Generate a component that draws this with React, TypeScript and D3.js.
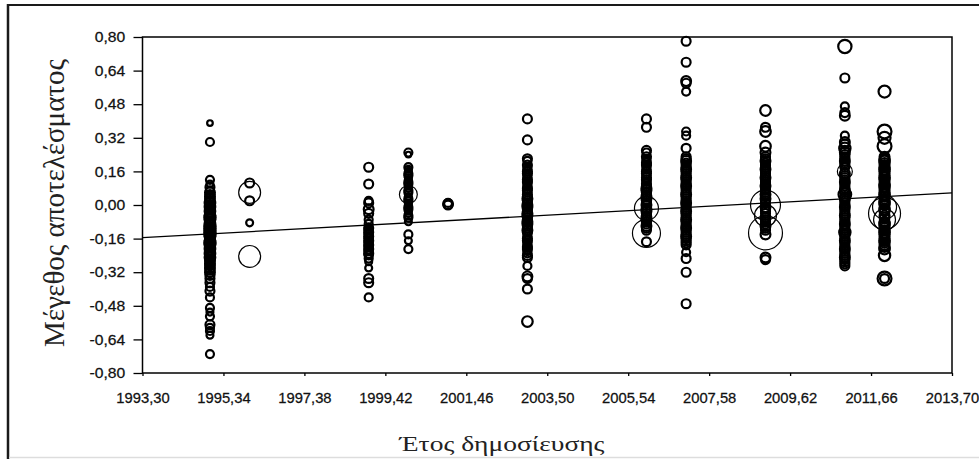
import React, { useRef, useEffect } from 'react';
import * as d3 from 'd3';

// [effect size, study weight] per publication year
const studies1995 = [
  [0.39, 2], [0.30, 4], [0.12, 4], [0.10, 3], [0.085, 5], [0.07, 4], [0.06, 6], [0.05, 5],
  [0.04, 6], [0.035, 5], [0.03, 5], [0.02, 6], [0.015, 5], [0.01, 7], [0.0, 6], [-0.005, 5],
  [-0.01, 7], [-0.02, 6], [-0.025, 5], [-0.03, 7], [-0.04, 6], [-0.045, 5], [-0.05, 7],
  [-0.06, 8], [-0.065, 6], [-0.07, 7], [-0.08, 6], [-0.085, 5], [-0.09, 7], [-0.10, 8],
  [-0.105, 6], [-0.11, 7], [-0.12, 8], [-0.125, 6], [-0.13, 7], [-0.14, 8], [-0.145, 6],
  [-0.15, 7], [-0.16, 6], [-0.165, 5], [-0.17, 7], [-0.18, 8], [-0.185, 6], [-0.19, 7],
  [-0.20, 6], [-0.205, 5], [-0.21, 7], [-0.22, 6], [-0.225, 5], [-0.23, 7], [-0.24, 6],
  [-0.245, 5], [-0.25, 7], [-0.26, 6], [-0.265, 5], [-0.27, 5], [-0.28, 6], [-0.285, 5],
  [-0.29, 5], [-0.30, 6], [-0.31, 5], [-0.32, 6], [-0.335, 5], [-0.35, 5], [-0.37, 5],
  [-0.39, 4], [-0.41, 5], [-0.44, 4], [-0.49, 4], [-0.51, 3], [-0.53, 4], [-0.57, 5],
  [-0.585, 4], [-0.60, 4], [-0.62, 3], [-0.71, 4],
];
const studies1996 = [[0.105, 5], [0.06, 30], [0.02, 5], [-0.085, 3], [-0.245, 30]];
const studies1999 = [
  [0.18, 5], [0.10, 5], [0.02, 4], [0.01, 5], [-0.02, 6], [-0.04, 5], [-0.07, 4], [-0.09, 4],
  [-0.11, 5], [-0.115, 4], [-0.12, 4], [-0.13, 5], [-0.135, 4], [-0.14, 4], [-0.15, 5],
  [-0.155, 4], [-0.16, 4], [-0.17, 5], [-0.175, 4], [-0.18, 4], [-0.19, 5], [-0.195, 4],
  [-0.20, 4], [-0.21, 5], [-0.215, 4], [-0.22, 4], [-0.23, 5], [-0.235, 4], [-0.24, 4],
  [-0.255, 4], [-0.27, 3], [-0.30, 3], [-0.35, 5], [-0.37, 5], [-0.44, 4],
];
const studies2000 = [
  [0.25, 4], [0.24, 2], [0.18, 4], [0.17, 3], [0.16, 3], [0.15, 4], [0.14, 4], [0.13, 3],
  [0.12, 3], [0.11, 4], [0.10, 4], [0.09, 3], [0.08, 3], [0.07, 4], [0.06, 4], [0.05, 20],
  [0.04, 3], [0.03, 4], [0.02, 4], [0.01, 3], [0.0, 3], [-0.01, 4], [-0.02, 4], [-0.03, 3],
  [-0.04, 3], [-0.05, 4], [-0.06, 4], [-0.08, 3], [-0.14, 4], [-0.17, 3], [-0.21, 4],
];
const studies2001 = [[0.01, 4], [0.005, 6], [0.0, 5]];
const studies2003 = [
  [0.41, 5], [0.31, 5], [0.22, 5], [0.21, 4], [0.19, 5], [0.18, 4], [0.17, 4], [0.16, 5],
  [0.15, 5], [0.14, 4], [0.13, 4], [0.12, 5], [0.11, 5], [0.10, 4], [0.09, 4], [0.08, 5],
  [0.07, 5], [0.06, 4], [0.05, 5], [0.04, 5], [0.03, 6], [0.02, 5], [0.01, 5], [0.0, 6],
  [-0.01, 6], [-0.02, 5], [-0.03, 5], [-0.04, 6], [-0.05, 6], [-0.06, 5], [-0.07, 5],
  [-0.08, 6], [-0.09, 6], [-0.10, 5], [-0.11, 5], [-0.12, 6], [-0.13, 5], [-0.14, 4],
  [-0.15, 4], [-0.16, 5], [-0.17, 5], [-0.18, 4], [-0.19, 4], [-0.20, 5], [-0.21, 5],
  [-0.22, 4], [-0.23, 4], [-0.24, 5], [-0.25, 5], [-0.29, 4], [-0.34, 6], [-0.35, 5],
  [-0.40, 5], [-0.555, 7],
];
const studies2006 = [
  [0.41, 5], [0.37, 5], [0.26, 5], [0.25, 4], [0.23, 5], [0.22, 4], [0.21, 4], [0.20, 5],
  [0.19, 5], [0.18, 4], [0.17, 4], [0.16, 5], [0.15, 5], [0.14, 4], [0.13, 5], [0.12, 5],
  [0.11, 4], [0.10, 5], [0.09, 5], [0.08, 6], [0.07, 6], [0.06, 5], [0.05, 5], [0.04, 6],
  [0.03, 6], [0.02, 5], [0.01, 5], [0.0, 6], [-0.016, 36], [-0.02, 6], [-0.03, 6],
  [-0.04, 5], [-0.05, 5], [-0.06, 6], [-0.07, 6], [-0.08, 5], [-0.09, 5], [-0.10, 6],
  [-0.11, 5], [-0.12, 5], [-0.135, 49], [-0.175, 5],
];
const studies2007 = [
  [0.78, 5], [0.68, 5], [0.59, 6], [0.58, 5], [0.54, 4], [0.35, 4], [0.33, 4], [0.27, 5],
  [0.23, 5], [0.22, 5], [0.21, 6], [0.20, 5], [0.19, 5], [0.18, 5], [0.17, 6], [0.16, 5],
  [0.15, 5], [0.14, 5], [0.13, 6], [0.12, 5], [0.11, 5], [0.10, 5], [0.09, 6], [0.08, 5],
  [0.07, 5], [0.06, 5], [0.05, 6], [0.04, 5], [0.03, 5], [0.02, 5], [0.01, 6], [0.0, 5],
  [-0.01, 5], [-0.02, 5], [-0.03, 6], [-0.04, 5], [-0.05, 5], [-0.06, 5], [-0.07, 6],
  [-0.08, 5], [-0.09, 5], [-0.10, 5], [-0.11, 6], [-0.12, 5], [-0.13, 5], [-0.14, 5],
  [-0.15, 6], [-0.16, 5], [-0.17, 5], [-0.18, 5], [-0.19, 5], [-0.225, 4], [-0.255, 5],
  [-0.32, 5], [-0.47, 5],
];
const studies2009 = [
  [0.45, 7], [0.37, 5], [0.35, 7], [0.28, 7], [0.25, 6], [0.23, 5], [0.22, 5], [0.21, 6],
  [0.20, 5], [0.19, 5], [0.18, 5], [0.17, 6], [0.16, 5], [0.15, 5], [0.14, 5], [0.13, 6],
  [0.12, 5], [0.11, 5], [0.10, 5], [0.09, 6], [0.08, 5], [0.07, 5], [0.06, 5], [0.05, 6],
  [0.04, 5], [0.03, 6], [0.02, 5], [0.0, 56], [0.01, 5], [-0.01, 6], [-0.02, 5], [-0.03, 5],
  [-0.04, 5], [-0.05, 30], [-0.06, 6], [-0.07, 5], [-0.08, 5], [-0.09, 5], [-0.10, 6],
  [-0.11, 5], [-0.12, 5], [-0.133, 72], [-0.14, 6], [-0.25, 6], [-0.26, 5],
];
const studies2011 = [
  [0.755, 11], [0.605, 5], [0.47, 4], [0.44, 5], [0.425, 6], [0.33, 4], [0.30, 6], [0.29, 5],
  [0.27, 8], [0.26, 5], [0.25, 6], [0.24, 5], [0.23, 5], [0.22, 5], [0.21, 6], [0.20, 5],
  [0.19, 5], [0.18, 5], [0.16, 14], [0.15, 6], [0.14, 5], [0.13, 5], [0.12, 5], [0.11, 6],
  [0.10, 5], [0.09, 5], [0.08, 5], [0.07, 6], [0.06, 5], [0.05, 10], [0.04, 5], [0.03, 6],
  [0.02, 5], [0.01, 5], [0.0, 5], [-0.01, 6], [-0.02, 5], [-0.03, 5], [-0.04, 5], [-0.05, 6],
  [-0.06, 5], [-0.07, 5], [-0.08, 5], [-0.09, 6], [-0.10, 5], [-0.11, 5], [-0.12, 5],
  [-0.13, 8], [-0.14, 5], [-0.15, 5], [-0.16, 5], [-0.17, 6], [-0.18, 5], [-0.19, 5],
  [-0.20, 5], [-0.21, 6], [-0.22, 5], [-0.23, 5], [-0.24, 5], [-0.25, 6], [-0.26, 5],
  [-0.27, 5], [-0.28, 5], [-0.29, 5],
];
const studies2012 = [
  [0.54, 9], [0.35, 12], [0.32, 9], [0.28, 12], [0.23, 6], [0.22, 6], [0.21, 7], [0.20, 6],
  [0.19, 6], [0.18, 6], [0.17, 7], [0.16, 6], [0.15, 6], [0.14, 6], [0.13, 7], [0.12, 6],
  [0.11, 6], [0.10, 6], [0.09, 7], [0.08, 6], [0.07, 6], [0.06, 6], [0.05, 7], [0.04, 6],
  [0.03, 6], [0.02, 6], [0.01, 7], [0.0, 6], [-0.01, 36], [-0.04, 64], [-0.07, 30],
  [-0.02, 7], [-0.03, 6], [-0.05, 6], [-0.06, 6], [-0.08, 6], [-0.09, 7], [-0.10, 6],
  [-0.11, 6], [-0.12, 6], [-0.13, 7], [-0.14, 6], [-0.15, 6], [-0.16, 6], [-0.17, 7],
  [-0.18, 6], [-0.19, 6], [-0.20, 6], [-0.21, 7], [-0.24, 8], [-0.35, 12], [-0.35, 5],
];

const years = [1995, 1996, 1999, 2000, 2001, 2003, 2006, 2007, 2009, 2011, 2012];
const studiesByYear = [
  studies1995, studies1996, studies1999, studies2000, studies2001, studies2003,
  studies2006, studies2007, studies2009, studies2011, studies2012,
];

const xTicks = [1993.30, 1995.34, 1997.38, 1999.42, 2001.46, 2003.50, 2005.54, 2007.58, 2009.62, 2011.66, 2013.70];
const yTicks = [-0.80, -0.64, -0.48, -0.32, -0.16, 0.00, 0.16, 0.32, 0.48, 0.64, 0.80];

// meta-regression line end points
const regYears = [1993.30, 2013.70];
const regEffects = [-0.155, 0.058];

const xTitle = 'Έτος δημοσίευσης';
const yTitle = 'Μέγεθος αποτελέσματος';

const App = () => {
  const svgRef = useRef(null);

  useEffect(() => {
    const svg = d3.select(svgRef.current);
    svg.selectAll('*').remove();

    const left = 142.5;
    const right = 952;
    const top = 37;
    const bottom = 373;

    const x = d3.scaleLinear().domain([1993.3, 2013.7]).range([left, right]);
    const y = d3.scaleLinear().domain([-0.8, 0.8]).range([bottom, top]);
    const r = d3.scaleSqrt().domain([0, 100]).range([0, 20]);

    const fmt = d3.formatLocale({
      decimal: ',', thousands: '.', grouping: [3], currency: ['', ''], minus: '-',
    }).format('.2f');

    // outer frame
    svg.append('line').attr('x1', 8).attr('x2', 979).attr('y1', 5).attr('y2', 5)
      .attr('stroke', '#1a1a1a').attr('stroke-width', 2);
    svg.append('line').attr('x1', 8).attr('x2', 8).attr('y1', 4).attr('y2', 459)
      .attr('stroke', '#1a1a1a').attr('stroke-width', 2.5);
    svg.append('line').attr('x1', 9).attr('x2', 979).attr('y1', 457.5).attr('y2', 457.5)
      .attr('stroke', '#dddddd').attr('stroke-width', 1.5);

    // plot box
    svg.append('rect')
      .attr('x', left).attr('y', top)
      .attr('width', right - left).attr('height', bottom - top)
      .attr('fill', 'none').attr('stroke', '#000').attr('stroke-width', 1.5);

    const tickFont = (sel, sx) => sel
      .attr('font-family', 'Liberation Sans, Arial, sans-serif')
      .attr('font-size', 14.5)
      .attr('fill', '#111')
      .attr('stroke', '#111')
      .attr('stroke-width', 0.25)
      .attr('transform', `scale(${sx},1)`);

    const yAxis = svg.append('g')
      .attr('transform', `translate(${left},0)`)
      .call(d3.axisLeft(y).tickValues(yTicks).tickSize(9).tickPadding(7).tickFormat(fmt));
    yAxis.select('.domain').remove();
    yAxis.selectAll('line').attr('stroke', '#000').attr('stroke-width', 1.3);
    yAxis.selectAll('text').call(tickFont, 1.08);

    const xAxis = svg.append('g')
      .attr('transform', `translate(0,${bottom})`)
      .call(d3.axisBottom(x).tickValues(xTicks).tickSize(3).tickPadding(17).tickFormat(fmt));
    xAxis.select('.domain').remove();
    xAxis.selectAll('line').attr('stroke', '#000').attr('stroke-width', 1.3);
    xAxis.selectAll('text').call(tickFont, 1.02);

    // regression line
    const line = d3.line().x(d => x(d[0])).y(d => y(d[1]));
    svg.append('path')
      .attr('d', line(regYears.map((yr, i) => [yr, regEffects[i]])))
      .attr('fill', 'none').attr('stroke', '#000').attr('stroke-width', 1.3);

    // bubbles
    const points = years.flatMap((yr, i) => studiesByYear[i].map(s => ({ year: yr, es: s[0], w: s[1] })));
    svg.append('g')
      .selectAll('circle')
      .data(points)
      .enter().append('circle')
      .attr('cx', d => x(d.year))
      .attr('cy', d => y(d.es))
      .attr('r', d => r(d.w))
      .attr('fill', 'none')
      .attr('stroke', '#000')
      .attr('stroke-width', d => (r(d.w) < 7 ? 2.2 : 1.2));

    // titles
    svg.append('text')
      .attr('x', 502).attr('y', 451)
      .attr('text-anchor', 'middle')
      .attr('font-family', 'Liberation Serif, Times New Roman, serif')
      .attr('font-size', 21)
      .attr('fill', '#222')
      .attr('textLength', 205)
      .attr('lengthAdjust', 'spacingAndGlyphs')
      .text(xTitle);

    svg.append('text')
      .attr('transform', 'translate(64,203) scale(1.3,1) rotate(-90)')
      .attr('text-anchor', 'middle')
      .attr('font-family', 'Liberation Serif, Times New Roman, serif')
      .attr('font-size', 22)
      .attr('fill', '#222')
      .attr('textLength', 288)
      .attr('lengthAdjust', 'spacingAndGlyphs')
      .text(yTitle);
  }, []);

  return (
    <svg
      ref={svgRef}
      width={979}
      height={459}
      style={{ position: 'absolute', left: 0, top: 0, background: '#fff' }}
    />
  );
};

export default App;
